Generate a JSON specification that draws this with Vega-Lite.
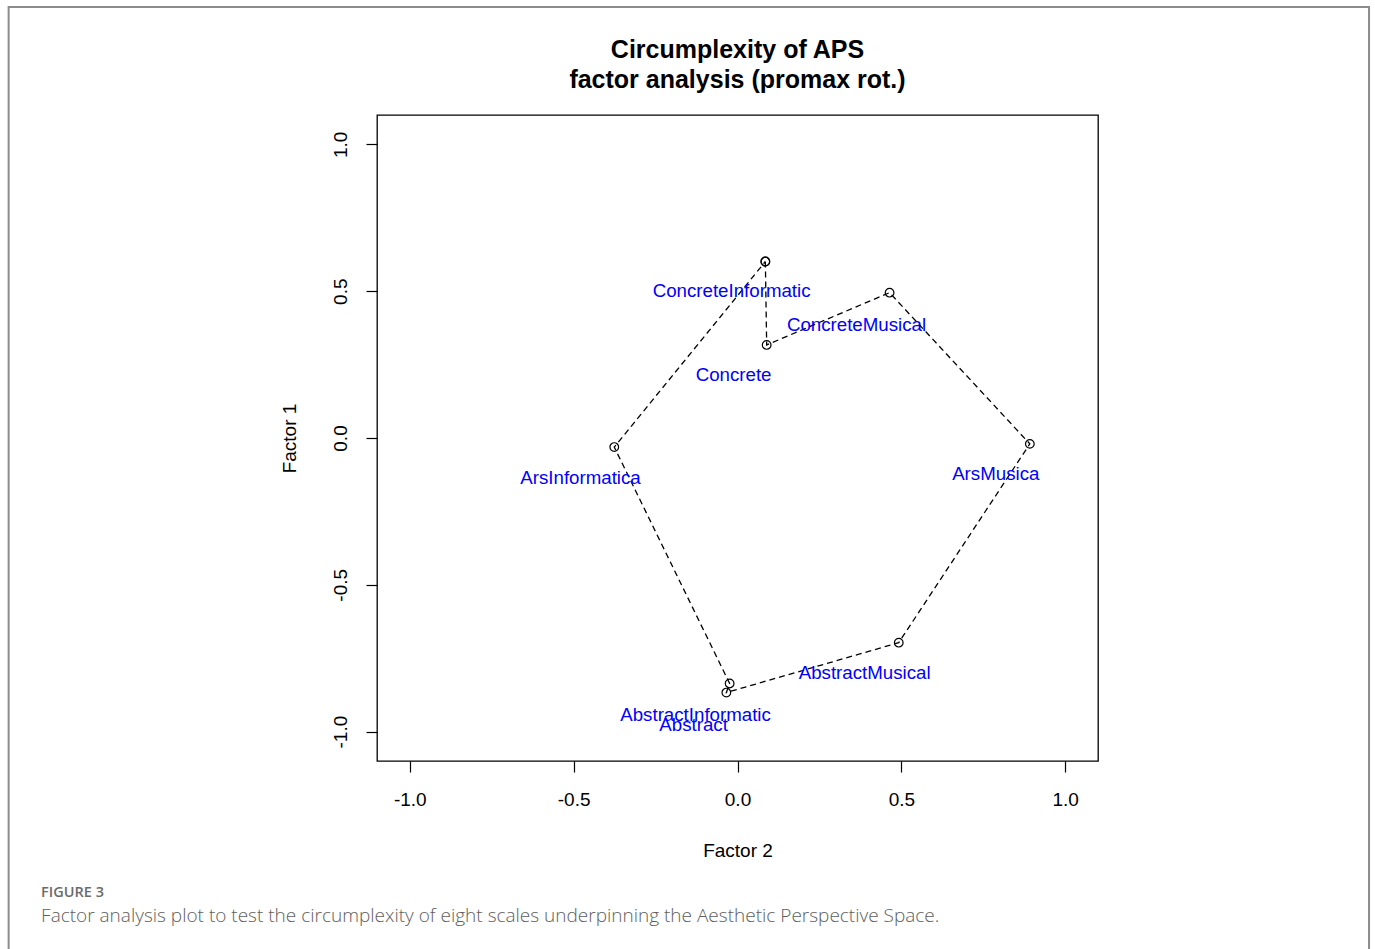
{
  "$schema": "https://vega.github.io/schema/vega-lite/v6.json",
  "autosize": "none",
  "width": 721,
  "height": 646,
  "padding": {"left": 377, "top": 115, "right": 277, "bottom": 188},
  "background": "white",
  "config": {
    "view": {"stroke": "black", "strokeWidth": 1.3},
    "font": "Liberation Sans"
  },
  "title": {
    "text": ["Circumplexity of APS", "factor analysis (promax rot.)"],
    "fontSize": 25,
    "fontWeight": "bold",
    "font": "Liberation Sans",
    "color": "black",
    "anchor": "middle",
    "frame": "group",
    "lineHeight": 30,
    "offset": -87
  },
  "datasets": {
    "scales": [
      {"scale": "ConcreteInformatic", "order": 1, "f2": 0.085, "f1": 0.601, "lx": -0.018, "ly": 0.502},
      {"scale": "Concrete", "order": 2, "f2": 0.089, "f1": 0.317, "lx": -0.012, "ly": 0.215},
      {"scale": "ConcreteMusical", "order": 3, "f2": 0.464, "f1": 0.495, "lx": 0.363, "ly": 0.386},
      {"scale": "ArsMusica", "order": 4, "f2": 0.892, "f1": -0.020, "lx": 0.788, "ly": -0.123},
      {"scale": "AbstractMusical", "order": 5, "f2": 0.492, "f1": -0.697, "lx": 0.388, "ly": -0.799},
      {"scale": "Abstract", "order": 6, "f2": -0.034, "f1": -0.867, "lx": -0.134, "ly": -0.976},
      {"scale": "AbstractInformatic", "order": 7, "f2": -0.024, "f1": -0.836, "lx": -0.128, "ly": -0.942},
      {"scale": "ArsInformatica", "order": 8, "f2": -0.376, "f1": -0.031, "lx": -0.479, "ly": -0.137},
      {"scale": "ConcreteInformatic", "order": 9, "f2": 0.085, "f1": 0.601, "lx": null, "ly": null}
    ]
  },
  "layer": [
    {
      "data": {"values": [{"frame": "figure"}]},
      "mark": {"type": "rect", "fill": null, "stroke": "#8c8c8c", "strokeWidth": 2, "clip": false},
      "encoding": {
        "x": {"datum": -2.224, "type": "quantitative", "scale": {"domain": [-1.1, 1.1], "nice": false, "zero": false}},
        "x2": {"datum": 1.927},
        "y": {"datum": 1.468, "type": "quantitative", "scale": {"domain": [-1.1, 1.1], "nice": false, "zero": false}},
        "y2": {"datum": -1.76}
      }
    },
    {
      "data": {"values": [{"caption": "FIGURE 3"}]},
      "mark": {"type": "text", "align": "left", "baseline": "middle", "font": "Open Sans", "fontSize": 14.5, "fontWeight": 600, "color": "#6b6b6b", "clip": false},
      "encoding": {
        "x": {"datum": -2.125, "type": "quantitative"},
        "y": {"datum": -1.549, "type": "quantitative"},
        "text": {"field": "caption"}
      }
    },
    {
      "data": {"values": [{"caption": "Factor analysis plot to test the circumplexity of eight scales underpinning the Aesthetic Perspective Space."}]},
      "mark": {"type": "text", "align": "left", "baseline": "middle", "font": "Open Sans", "fontSize": 19, "fontWeight": 300, "color": "#5e5e5e", "clip": false},
      "encoding": {
        "x": {"datum": -2.125, "type": "quantitative"},
        "y": {"datum": -1.628, "type": "quantitative"},
        "text": {"field": "caption"}
      }
    },
    {
      "mark": {"type": "rule", "color": "black", "strokeWidth": 1.3},
      "encoding": {"y": {"datum": 0, "type": "quantitative"}}
    },
    {
      "mark": {"type": "rule", "color": "black", "strokeWidth": 1.3},
      "encoding": {"x": {"datum": 0, "type": "quantitative"}}
    },
    {
      "data": {"name": "scales"},
      "mark": {"type": "line", "color": "black", "strokeWidth": 1.3, "strokeDash": [6, 4]},
      "encoding": {
        "x": {"field": "f2", "type": "quantitative"},
        "y": {"field": "f1", "type": "quantitative"},
        "order": {"field": "order"}
      }
    },
    {
      "data": {"name": "scales"},
      "mark": {"type": "point", "shape": "circle", "filled": false, "color": "black", "size": 75, "strokeWidth": 1.2, "opacity": 1},
      "encoding": {
        "x": {"field": "f2", "type": "quantitative"},
        "y": {"field": "f1", "type": "quantitative"}
      }
    },
    {
      "data": {"name": "scales"},
      "transform": [{"filter": "datum.order <= 8"}],
      "mark": {"type": "text", "color": "#0000ff", "fontSize": 18.7, "font": "Liberation Sans", "align": "center", "baseline": "middle"},
      "encoding": {
        "x": {"field": "lx", "type": "quantitative", "title": "Factor 2",
          "axis": {"values": [-1, -0.5, 0, 0.5, 1], "labelExpr": "datum.value < 0 ? '-' + format(-datum.value, '.1f') : format(datum.value, '.1f')", "domain": false, "grid": false, "tickColor": "black", "tickSize": 11, "tickWidth": 1.2, "labelFontSize": 19, "labelColor": "black", "labelFont": "Liberation Sans", "labelPadding": 18, "titleFontSize": 19, "titleFontWeight": "normal", "titleColor": "black", "titleFont": "Liberation Sans", "titlePadding": 32}},
        "y": {"field": "ly", "type": "quantitative", "title": "Factor 1",
          "axis": {"values": [-1, -0.5, 0, 0.5, 1], "labelExpr": "datum.value < 0 ? '-' + format(-datum.value, '.1f') : format(datum.value, '.1f')", "domain": false, "grid": false, "tickColor": "black", "tickSize": 11, "tickWidth": 1.2, "labelFontSize": 19, "labelColor": "black", "labelFont": "Liberation Sans", "labelAngle": -90, "labelAlign": "center", "labelBaseline": "bottom", "labelPadding": 16, "titleFontSize": 19, "titleFontWeight": "normal", "titleColor": "black", "titleFont": "Liberation Sans", "titlePadding": 32}},
        "text": {"field": "scale"}
      }
    }
  ]
}
